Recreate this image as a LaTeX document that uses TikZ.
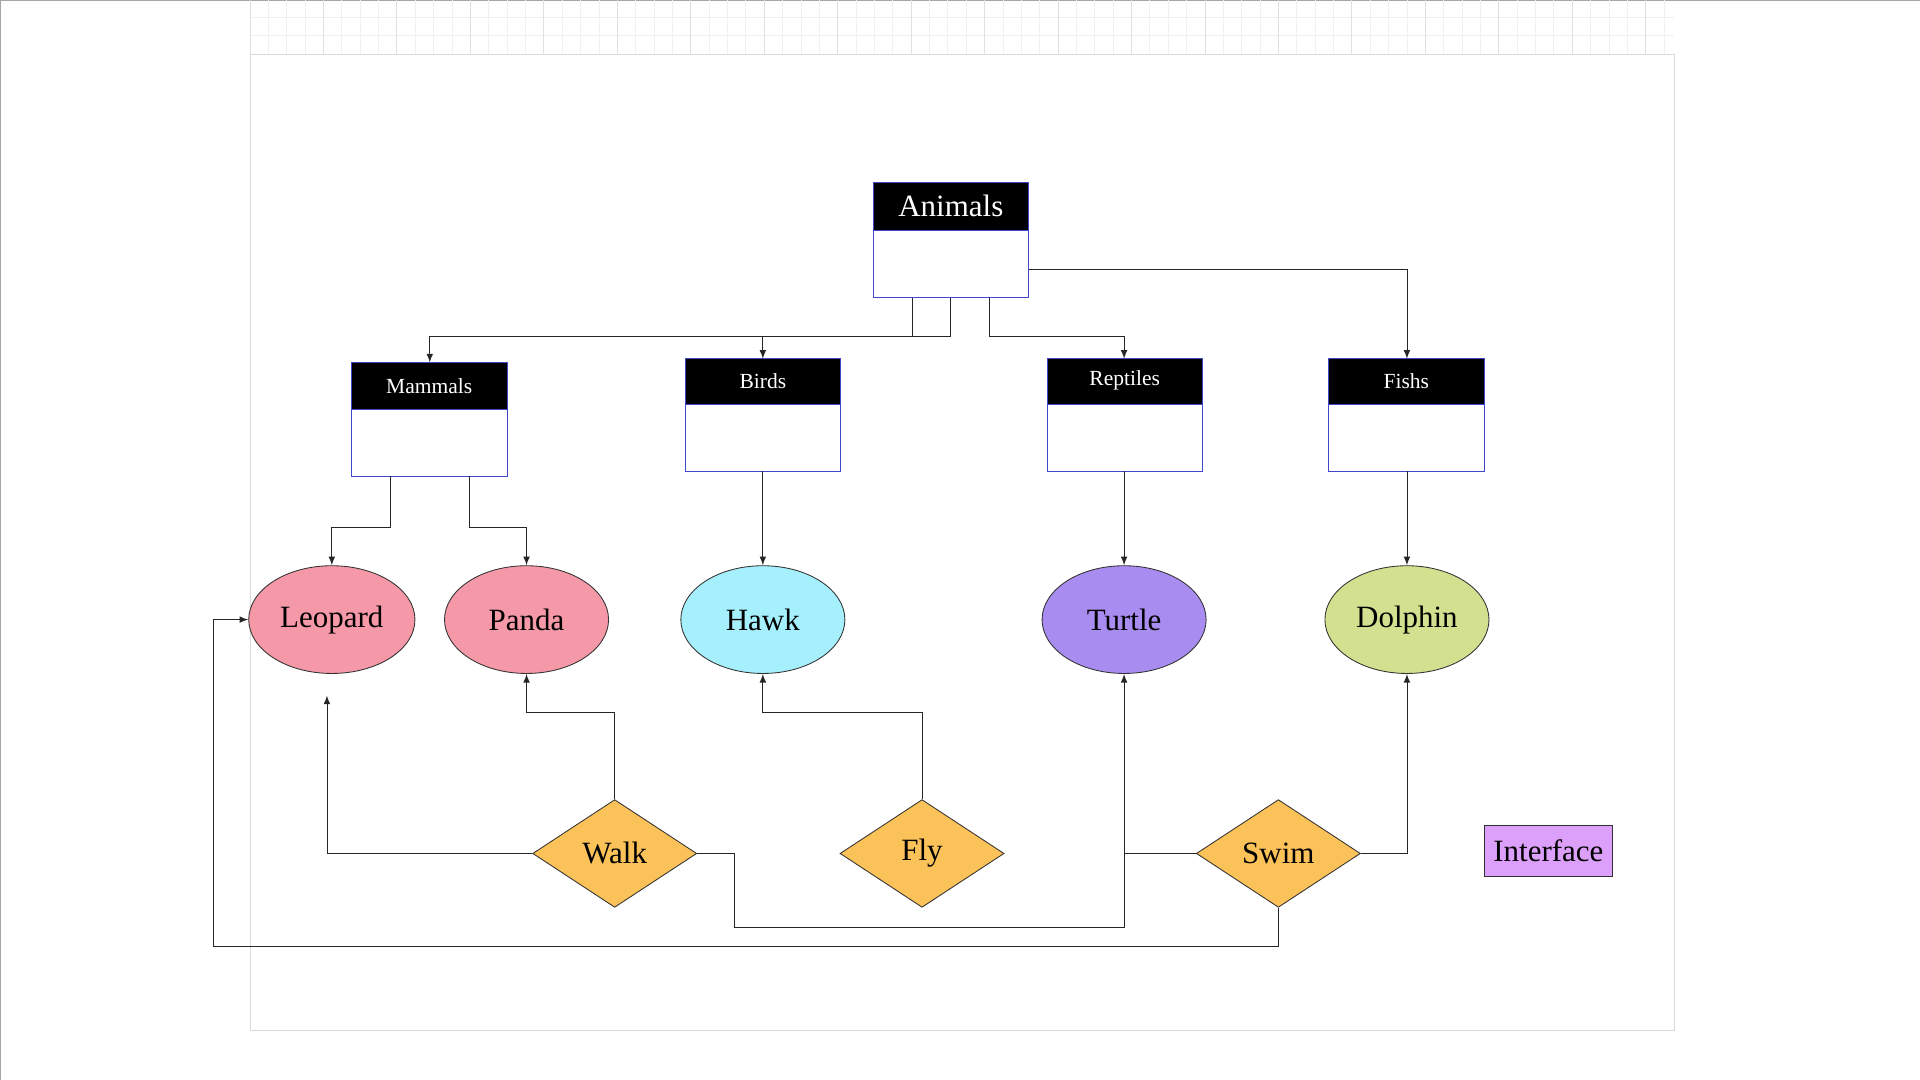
\documentclass[tikz,border=0pt]{standalone}
\usepackage{fontspec}
\setmainfont{Liberation Serif}
\usetikzlibrary{arrows, shapes.geometric, positioning}
\definecolor{pinkfill}{HTML}{F598A8}
\definecolor{hawkfill}{HTML}{A5F0FC}
\definecolor{turtlefill}{HTML}{A98CF0}
\definecolor{dolphinfill}{HTML}{D3E08F}
\definecolor{actfill}{HTML}{FCC25A}
\definecolor{ifill}{HTML}{DDA0FA}
\definecolor{boxline}{HTML}{3F48CC}
\begin{document}
\begin{tikzpicture}[
            x = 0.02cm, y = -0.02cm,
            > = latex, % arrow head style
            semithick, % line style
            link/.style = {draw = black!85, thin, rounded corners = 0pt},
            animal/.style = {ellipse, draw = black!80, thin, minimum width = 2.68cm, minimum height = 1.76cm, font = \Large},
            act/.style = {diamond, draw = black!80, thin, fill = actfill, minimum width = 2.68cm, minimum height = 1.76cm, aspect = 1.52, inner sep = 0pt, font = \Large}
        ]

        % page and grid
        \useasboundingbox (0,0) rectangle (1568,882);
        \draw[gray!70, thin] (0,882) -- (0,0) -- (1568,0);
        \draw[black!6, very thin, step = 0.3cm, shift = {(204,44)}] (0,0) grid (1163,-797);
        \draw[black!12, very thin, step = 1.2cm, shift = {(204,44)}] (0,0) grid (1163,-797);
        \draw[black!15, very thin] (204,44) rectangle (1367,841);

        % classes: header + body
        \newcommand{\classbox}[5]{%
            \fill[black] (#1,#2) rectangle (#3,#4);
            \draw[boxline, thin] (#1,#2) rectangle (#3,#5);
            \draw[boxline, thin] (#1,#4) -- (#3,#4);
        }
        \classbox{713}{149}{840}{188}{243}
        \classbox{287}{296}{414}{334}{389}
        \classbox{560}{293}{686}{330}{385}
        \classbox{855}{293}{982}{330}{385}
        \classbox{1085}{293}{1212}{330}{385}
        \node[text = white, font = \Large] (animals) at (776.5,168) {Animals};
        \node[text = white] (mammals) at (350.5,315) {Mammals};
        \node[text = white] (birds) at (623,311) {Birds};
        \node[text = white] (reptiles) at (918.5,311) {Reptiles};
        \node[text = white] (fishs) at (1148.5,311) {Fishs};

        % animals
        \node[animal, fill = pinkfill] (leopard) at (271,506) {Leopard};
        \node[animal, fill = pinkfill] (panda) at (430,506) {Panda};
        \node[animal, fill = hawkfill] (hawk) at (623,506) {Hawk};
        \node[animal, fill = turtlefill] (turtle) at (918,506) {Turtle};
        \node[animal, fill = dolphinfill] (dolphin) at (1149,506) {Dolphin};

        % actions
        \node[act] (walk) at (502,697) {Walk};
        \node[act] (fly) at (753,697) {Fly};
        \node[act] (swim) at (1044,697) {Swim};
        \node[draw = black!80, thin, fill = ifill, minimum width = 2.1cm, minimum height = 0.84cm, font = \Large] (iface) at (1264.5,695) {Interface};

        \coordinate (leoend) at (267,568);

        % hierarchy
        \draw[link, ->] (745,243) |- (351,275) -- (351,296);
        \draw[link, ->] (776,243) |- (623,275) -- (623,293);
        \draw[link, ->] (808,243) |- (918,275) -- (918,293);
        \draw[link, ->] (840,220) -| (1149,293);
        \draw[link, ->] (319,389) |- (271,431) -- (leopard.north);
        \draw[link, ->] (383,389) |- (430,431) -- (panda.north);
        \draw[link, ->] (623,385) -- (hawk.north);
        \draw[link, ->] (918,385) -- (turtle.north);
        \draw[link, ->] (1149,385) -- (dolphin.north);

        % interfaces
        \draw[link, ->] (walk.north) |- (430,582) -- (panda.south);
        \draw[link, ->] (walk.west) -| (leoend);
        \draw[link, ->] (walk.east) -- (600,697) |- (918,757) -- (turtle.south);
        \draw[link, ->] (fly.north) |- (623,582) -- (hawk.south);
        \draw[link] (swim.west) -- (918,697);
        \draw[link, ->] (swim.east) -| (dolphin.south);
        \draw[link, ->] (swim.south) |- (174,773) |- (leopard.west);
    \end{tikzpicture}
\end{document}
